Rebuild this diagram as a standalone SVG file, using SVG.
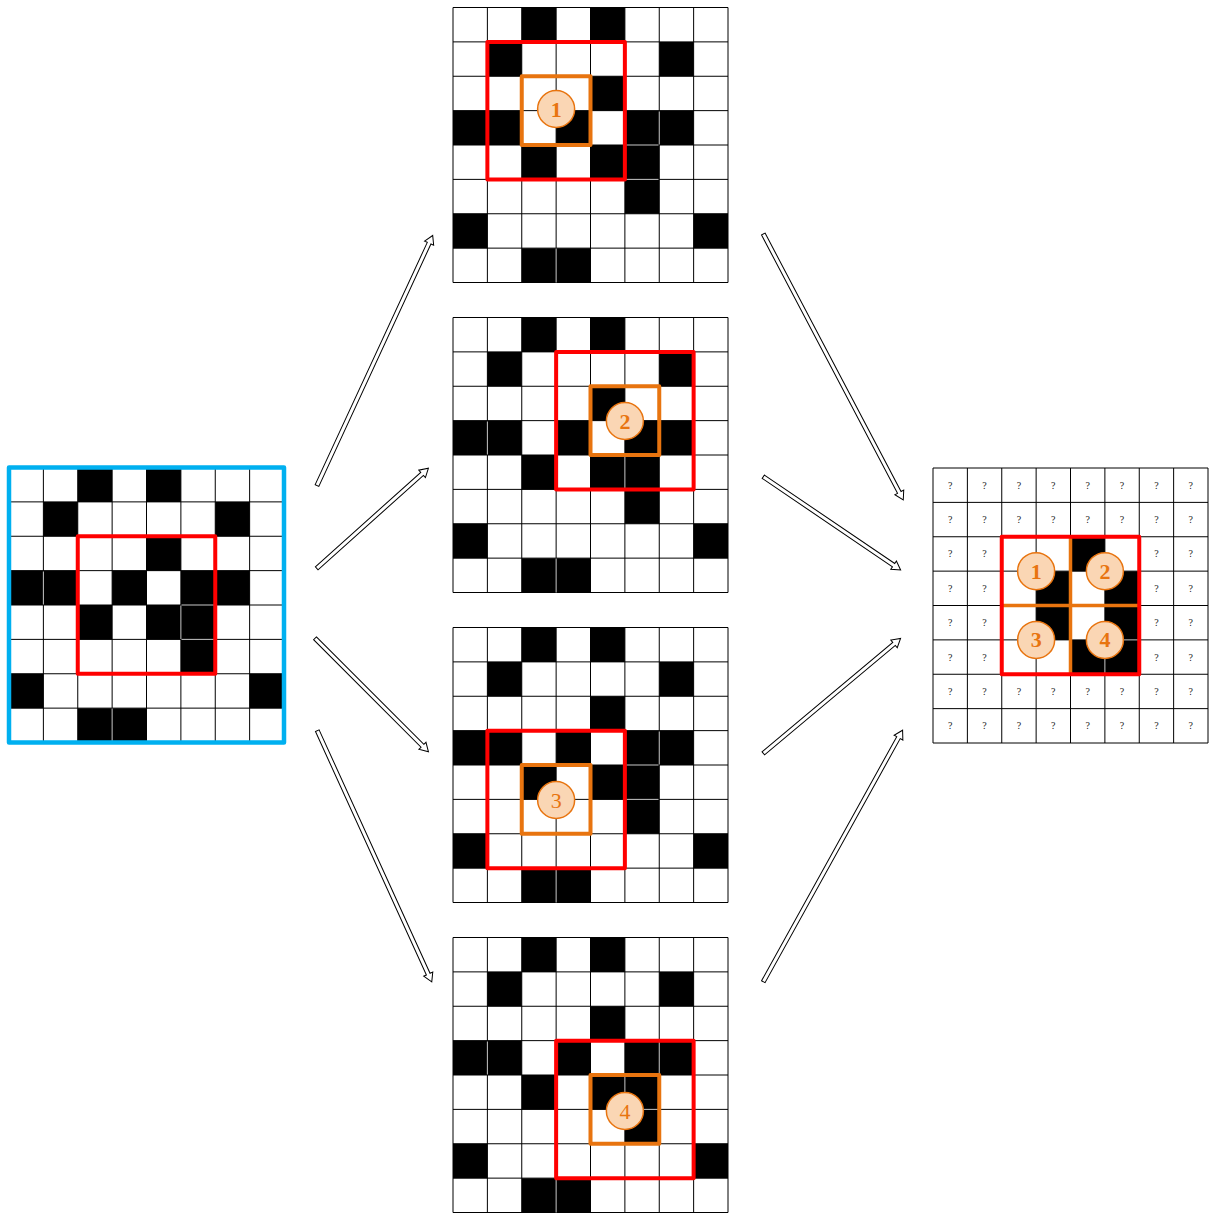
<svg xmlns="http://www.w3.org/2000/svg" xmlns:xlink="http://www.w3.org/1999/xlink" width="1210" height="1214" viewBox="0 0 1210 1214">
<style>
.blk{fill:#000}
.gl{fill:none;stroke:#000;stroke-width:1}
.sep{fill:none;stroke:#c8c8c8;stroke-width:1}
.red{fill:none;stroke:#FF0000;stroke-width:4;stroke-linejoin:round}
.org{fill:none;stroke:#E8740F;stroke-width:4;stroke-linejoin:round}
.orgl{fill:none;stroke:#E8740F;stroke-width:3.5}
.blue{fill:none;stroke:#00B0F0;stroke-width:4.5;stroke-linejoin:round}
.circ{fill:#FAD6B4;stroke:#E8740F;stroke-width:1.5}
.num{font-family:"Liberation Serif",serif;font-size:22px;font-weight:bold;fill:#E8740F;text-anchor:middle}
.numr{font-family:"Liberation Serif",serif;font-size:22px;font-weight:normal;fill:#E8740F;text-anchor:middle}
.q{font-family:"Liberation Serif",serif;font-size:10px;fill:#222;text-anchor:middle}
.arr{fill:#fff;stroke:#000;stroke-width:1;stroke-linejoin:miter}
</style>
<defs>
<path id="gridlines" class="gl" d="M0,0H275M0,34.375H275M0,68.75H275M0,103.125H275M0,137.5H275M0,171.875H275M0,206.25H275M0,240.625H275M0,275H275M0,0V275M34.375,0V275M68.75,0V275M103.125,0V275M137.5,0V275M171.875,0V275M206.25,0V275M240.625,0V275M275,0V275"/>
<g id="board">
<rect width="275" height="275" fill="#fff"/>
<path class="blk" d="M68.75,0h34.375v34.375h-34.375z M137.5,0h34.375v34.375h-34.375z M34.375,34.375h34.375v34.375h-34.375z M206.25,34.375h34.375v34.375h-34.375z M137.5,68.75h34.375v34.375h-34.375z M0,103.125h68.75v34.375h-68.75z M103.125,103.125h34.375v34.375h-34.375z M171.875,103.125h68.75v34.375h-68.75z M68.75,137.5h34.375v34.375h-34.375z M137.5,137.5h68.75v34.375h-68.75z M171.875,171.875h34.375v34.375h-34.375z M0,206.25h34.375v34.375h-34.375z M240.625,206.25h34.375v34.375h-34.375z M68.75,240.625h68.75v34.375h-68.75z"/>
<use xlink:href="#gridlines"/>
<path class="sep" d="M34.375,104V137M206.25,104V137M171.875,138V171.5M103.125,241V275M172.5,137.5H205.5M172.5,171.875H205.5"/>
</g>
</defs>

<g id="input-grid" transform="translate(9,467.5)">
<use xlink:href="#board"/>
<rect class="blue" x="0" y="0" width="275" height="275"/>
<rect class="red" x="68.75" y="68.75" width="137.5" height="137.5"/>
</g>

<g id="window-1" transform="translate(453,7.5)">
<use xlink:href="#board"/>
<rect class="red" x="34.375" y="34.375" width="137.5" height="137.5"/>
<rect class="org" x="68.75" y="68.75" width="68.75" height="68.75"/>
<circle class="circ" cx="103.125" cy="101.5" r="18.5"/>
<text class="num" x="103.125" y="109">1</text>
</g>

<g id="window-2" transform="translate(453,317.5)">
<use xlink:href="#board"/>
<rect class="red" x="103.125" y="34.375" width="137.5" height="137.5"/>
<rect class="org" x="137.5" y="68.75" width="68.75" height="68.75"/>
<circle class="circ" cx="171.875" cy="103.5" r="18.5"/>
<text class="num" x="171.875" y="111">2</text>
</g>

<g id="window-3" transform="translate(453,627.5)">
<use xlink:href="#board"/>
<rect class="red" x="34.375" y="103.125" width="137.5" height="137.5"/>
<rect class="org" x="68.75" y="137.5" width="68.75" height="68.75"/>
<circle class="circ" cx="103.125" cy="172.5" r="18.5"/>
<text class="numr" x="103.125" y="180">3</text>
</g>

<g id="window-4" transform="translate(453,937.5)">
<use xlink:href="#board"/>
<rect class="red" x="103.125" y="103.125" width="137.5" height="137.5"/>
<rect class="org" x="137.5" y="137.5" width="68.75" height="68.75"/>
<circle class="circ" cx="171.875" cy="173.5" r="18.5"/>
<text class="numr" x="171.875" y="181">4</text>
</g>

<g id="output-grid" transform="translate(933,468)">
<rect width="275" height="275" fill="#fff"/>
<path class="blk" d="M137.5,68.75h34.375v34.375h-34.375z M103.125,103.125h34.375v68.75h-34.375z M171.875,103.125h34.375v68.75h-34.375z M137.5,171.875h68.75v34.375h-68.75z"/>
<use xlink:href="#gridlines"/>
<path class="sep" d="M171.875,172.5V205.5M172.5,171.875H205.5"/>
<g class="q">
<text x="17.19" y="20.7">?</text><text x="51.56" y="20.7">?</text><text x="85.94" y="20.7">?</text><text x="120.31" y="20.7">?</text><text x="154.69" y="20.7">?</text><text x="189.06" y="20.7">?</text><text x="223.44" y="20.7">?</text><text x="257.81" y="20.7">?</text>
<text x="17.19" y="55.1">?</text><text x="51.56" y="55.1">?</text><text x="85.94" y="55.1">?</text><text x="120.31" y="55.1">?</text><text x="154.69" y="55.1">?</text><text x="189.06" y="55.1">?</text><text x="223.44" y="55.1">?</text><text x="257.81" y="55.1">?</text>
<text x="17.19" y="89.4">?</text><text x="51.56" y="89.4">?</text><text x="223.44" y="89.4">?</text><text x="257.81" y="89.4">?</text>
<text x="17.19" y="123.8">?</text><text x="51.56" y="123.8">?</text><text x="223.44" y="123.8">?</text><text x="257.81" y="123.8">?</text>
<text x="17.19" y="158.2">?</text><text x="51.56" y="158.2">?</text><text x="223.44" y="158.2">?</text><text x="257.81" y="158.2">?</text>
<text x="17.19" y="192.6">?</text><text x="51.56" y="192.6">?</text><text x="223.44" y="192.6">?</text><text x="257.81" y="192.6">?</text>
<text x="17.19" y="226.9">?</text><text x="51.56" y="226.9">?</text><text x="85.94" y="226.9">?</text><text x="120.31" y="226.9">?</text><text x="154.69" y="226.9">?</text><text x="189.06" y="226.9">?</text><text x="223.44" y="226.9">?</text><text x="257.81" y="226.9">?</text>
<text x="17.19" y="261.3">?</text><text x="51.56" y="261.3">?</text><text x="85.94" y="261.3">?</text><text x="120.31" y="261.3">?</text><text x="154.69" y="261.3">?</text><text x="189.06" y="261.3">?</text><text x="223.44" y="261.3">?</text><text x="257.81" y="261.3">?</text>
</g>
<path class="orgl" d="M137.5,68.75V206.25M68.75,137.5H206.25"/>
<rect class="red" x="68.75" y="68.75" width="137.5" height="137.5"/>
<circle class="circ" cx="103.125" cy="103.125" r="18.5"/>
<text class="num" x="103.125" y="110.6">1</text>
<circle class="circ" cx="171.875" cy="103.125" r="18.5"/>
<text class="num" x="171.875" y="110.6">2</text>
<circle class="circ" cx="103.125" cy="171.875" r="18.5"/>
<text class="num" x="103.125" y="179.4">3</text>
<circle class="circ" cx="171.875" cy="171.875" r="18.5"/>
<text class="num" x="171.875" y="179.4">4</text>
</g>

<g id="connectors">
<path class="arr" transform="translate(317,485.5) rotate(-65.17)" d="M0,-2H267V-5L275.5,0L267,5V2H0Z"/>
<path class="arr" transform="translate(316.7,568.3) rotate(-41.86)" d="M0,-2H141.5V-5L150,0L141.5,5V2H0Z"/>
<path class="arr" transform="translate(315,638.3) rotate(45.02)" d="M0,-2H152V-5L160.5,0L152,5V2H0Z"/>
<path class="arr" transform="translate(317.3,730.7) rotate(65.5)" d="M0,-2H267.5V-5L276,0L267.5,5V2H0Z"/>
<path class="arr" transform="translate(763.3,234) rotate(62.24)" d="M0,-2H292V-5L300.5,0L292,5V2H0Z"/>
<path class="arr" transform="translate(763.3,476.7) rotate(34.18)" d="M0,-2H157.5V-5L166,0L157.5,5V2H0Z"/>
<path class="arr" transform="translate(763.3,753.3) rotate(-39.93)" d="M0,-2H170.5V-5L179,0L170.5,5V2H0Z"/>
<path class="arr" transform="translate(763.3,981.7) rotate(-61.02)" d="M0,-2H279V-5L287.5,0L279,5V2H0Z"/>
</g>
</svg>
